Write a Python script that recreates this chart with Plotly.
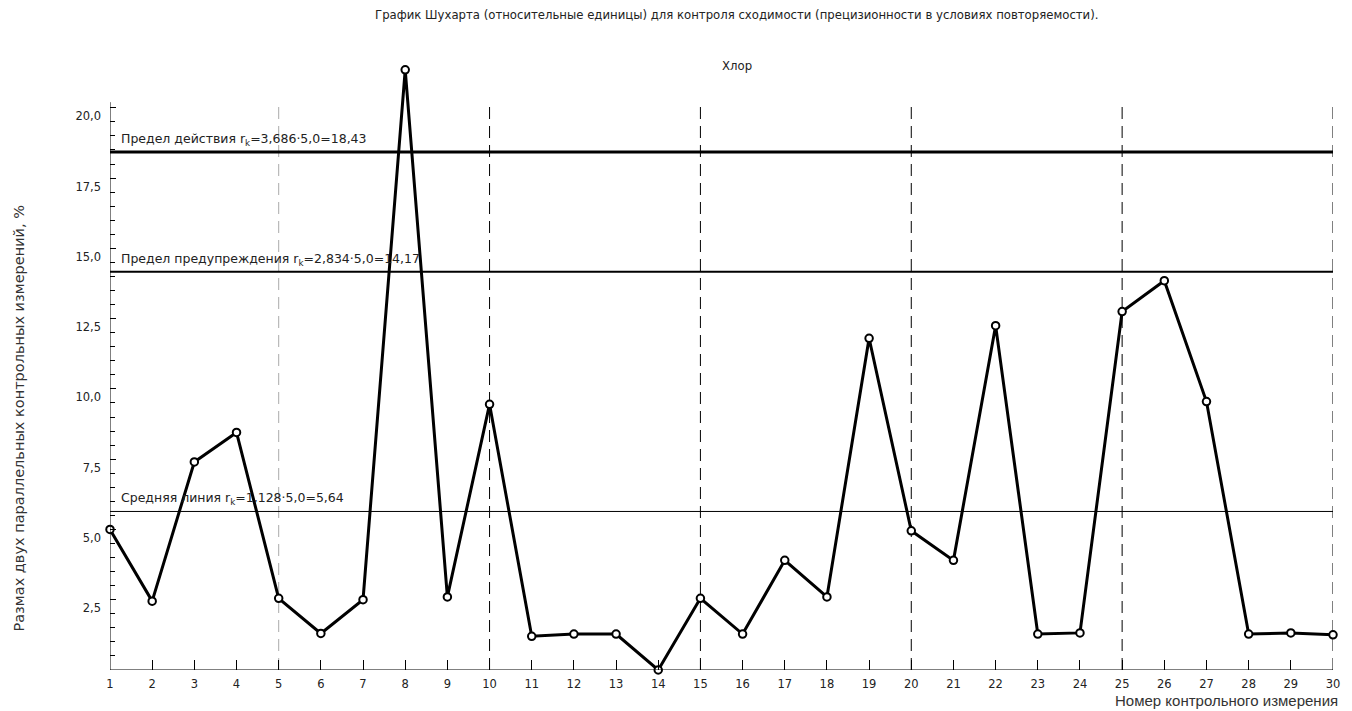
import plotly.graph_objects as go

# ---- data ----
measurement_no = list(range(1, 31))
range_values = [5.0, 2.45, 7.4, 8.45, 2.55, 1.3, 2.5, 21.35, 2.6, 9.45,
                1.2, 1.28, 1.28, 0.0, 2.55, 1.28, 3.9, 2.6, 11.8, 4.95,
                3.9, 12.25, 1.28, 1.32, 12.75, 13.85, 9.55, 1.28, 1.32, 1.25]
action_limit = 18.43
warning_limit = 14.17
mean_line = 5.64
limit_labels = [
    "Предел действия r<sub>k</sub>=3,686·5,0=18,43",
    "Предел предупреждения r<sub>k</sub>=2,834·5,0=14,17",
    "Средняя линия r<sub>k</sub>=1,128·5,0=5,64",
]
y_tick_vals = [2.5, 5.0, 7.5, 10.0, 12.5, 15.0, 17.5, 20.0]
x_major_dash = [10, 15, 20, 25, 30]
title_text = "График Шухарта (относительные единицы) для контроля сходимости (прецизионности в условиях повторяемости)."
subtitle_text = "Хлор"
y_title = "Размах двух параллельных контрольных измерений, %"
x_title = "Номер контрольного измерения"

Y_AXIS_TOP = 20.2
X_MIN, X_MAX = 1, 30

fig = go.Figure()

for val, w in [(action_limit, 3), (warning_limit, 2), (mean_line, 1)]:
    fig.add_trace(go.Scatter(x=[X_MIN, X_MAX], y=[val, val], mode="lines",
                             line=dict(color="black", width=w),
                             hoverinfo="skip", showlegend=False))

fig.add_trace(go.Scatter(x=measurement_no, y=range_values, mode="lines+markers",
                         line=dict(color="black", width=3),
                         marker=dict(symbol="circle", size=7.5, color="white",
                                     line=dict(color="black", width=2)),
                         cliponaxis=False, showlegend=False))

shapes = []
for xv in x_major_dash:
    shapes.append(dict(type="line", xref="x", yref="y", x0=xv, x1=xv, y0=0, y1=Y_AXIS_TOP,
                       line=dict(color="black", width=1, dash="12px,7px"), layer="below"))
shapes.append(dict(type="line", xref="x", yref="y", x0=5, x1=5, y0=0, y1=Y_AXIS_TOP,
                   line=dict(color="#aaaaaa", width=1, dash="12px,7px"), layer="below"))
shapes.append(dict(type="line", xref="x", yref="y", x0=X_MIN, x1=X_MIN, y0=0, y1=Y_AXIS_TOP,
                   line=dict(color="black", width=1), layer="above"))
shapes.append(dict(type="line", xref="x", yref="y", x0=X_MIN, x1=X_MAX, y0=0, y1=0,
                   line=dict(color="black", width=1), layer="above"))

L, R, T, B = 110, 12, 60, 41
PW, PH = 1352 - L - R, 711 - T - B
annotations = []
for val, txt in zip([action_limit, warning_limit, mean_line], limit_labels):
    annotations.append(dict(x=X_MIN, y=val, xref="x", yref="y", text=txt, showarrow=False,
                            xanchor="left", yanchor="bottom", xshift=9, yshift=2,
                            font=dict(family="DejaVu Sans", size=12.5, color="#222222")))
annotations.append(dict(x=(740 - L) / PW, y=1.0 + (T - 15) / PH, xref="paper", yref="paper",
                        text=title_text, showarrow=False, xanchor="center", yanchor="middle",
                        font=dict(family="DejaVu Sans", size=11.7, color="#222222")))
annotations.append(dict(x=(741 - L) / PW, y=(670 - 66) / PH, xref="paper", yref="paper",
                        text=subtitle_text, showarrow=False, xanchor="center", yanchor="middle",
                        font=dict(family="DejaVu Sans", size=11.7, color="#222222")))
annotations.append(dict(x=(18 - L) / PW, y=(670 - 418) / PH, xref="paper", yref="paper",
                        text=y_title, showarrow=False, textangle=-90,
                        xanchor="center", yanchor="middle",
                        font=dict(family="DejaVu Sans", size=14.5, color="#333333")))
annotations.append(dict(x=(1347 - L) / PW, y=(670 - 700) / PH, xref="paper", yref="paper",
                        text=x_title, showarrow=False, xanchor="right", yanchor="middle",
                        font=dict(family="Liberation Sans", size=15, color="#333333")))

minor_y = [v / 2 for v in range(1, int(Y_AXIS_TOP * 2) + 1) if (v / 2) not in y_tick_vals]

fig.update_layout(
    width=1352, height=711,
    margin=dict(l=L, r=R, t=T, b=B),
    plot_bgcolor="white", paper_bgcolor="white",
    separators=", ",
    shapes=shapes, annotations=annotations,
    xaxis=dict(range=[X_MIN, X_MAX], tickvals=measurement_no,
               ticks="inside", ticklen=10, tickcolor="black", tickwidth=1,
               ticklabelstandoff=5,
               showgrid=False, zeroline=False, showline=False,
               tickfont=dict(family="DejaVu Sans", size=11.5, color="#222222")),
    yaxis=dict(range=[0, 21.7], tickvals=y_tick_vals, tickformat=".1f",
               ticks="inside", ticklen=6, tickcolor="black", tickwidth=1,
               ticklabelposition="outside bottom", ticklabelstandoff=8,
               minor=dict(tickvals=minor_y, ticks="inside", ticklen=5, tickcolor="black"),
               showgrid=False, zeroline=False, showline=False,
               tickfont=dict(family="DejaVu Sans", size=11.5, color="#222222")),
)

fig.write_html("out.html", config={"displayModeBar": False},
               post_script="document.body.style.margin='0';document.body.style.overflow='hidden';")
